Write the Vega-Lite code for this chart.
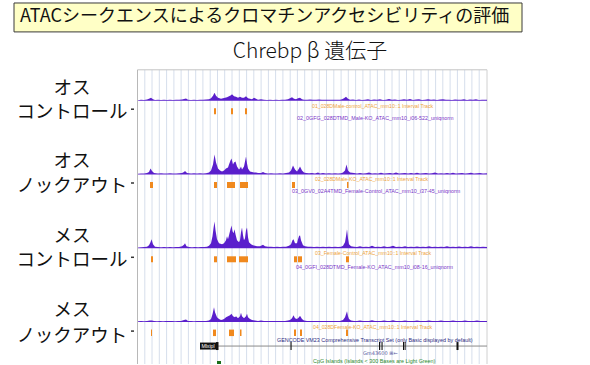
{
 "$schema": "https://vega.github.io/schema/vega-lite/v6.json",
 "width": 590, "height": 365,
 "autosize": {"type": "fit", "contains": "padding"},
 "padding": 0,
 "background": "white",
 "config": {"view": {"stroke": null}, "text": {"font": "Noto Sans CJK JP", "color": "#111111", "baseline": "middle"}},
 "datasets": {
  "grid": [{"gx":144.8},{"gx":152.0},{"gx":159.3},{"gx":166.6},{"gx":173.9},{"gx":181.1},{"gx":188.4},{"gx":195.7},{"gx":202.9},{"gx":210.2},{"gx":217.5},{"gx":224.7},{"gx":232.0},{"gx":239.3},{"gx":246.6},{"gx":253.8},{"gx":261.1},{"gx":268.4},{"gx":275.6},{"gx":282.9},{"gx":290.2},{"gx":297.4},{"gx":304.7},{"gx":312.0},{"gx":319.3},{"gx":326.5},{"gx":333.8},{"gx":341.1},{"gx":348.3},{"gx":355.6},{"gx":362.9},{"gx":370.1},{"gx":377.4},{"gx":384.7},{"gx":392.0},{"gx":399.2},{"gx":406.5},{"gx":413.8},{"gx":421.0},{"gx":428.3},{"gx":435.6},{"gx":442.8},{"gx":450.1},{"gx":457.4},{"gx":464.7},{"gx":471.9},{"gx":479.2}],
  "exons": [{"s":216,"e":218.5},{"s":290.5,"e":291.6},{"s":379,"e":380.2},{"s":381.5,"e":382.6},{"s":403,"e":404},{"s":404.6,"e":405.6},{"s":456.5,"e":458.5}],
  "s1": [{"x":138,"h":0.6},{"x":141,"h":1},{"x":144,"h":0.7},{"x":147,"h":1.2},{"x":149,"h":2},{"x":151,"h":3},{"x":153,"h":1.5},{"x":155,"h":0.8},{"x":158,"h":1},{"x":161,"h":0.7},{"x":164,"h":1},{"x":167,"h":0.8},{"x":170,"h":1},{"x":173,"h":0.8},{"x":176,"h":1},{"x":179,"h":0.9},{"x":182,"h":1.2},{"x":184,"h":1.8},{"x":186,"h":2.2},{"x":188,"h":1},{"x":191,"h":0.8},{"x":194,"h":1},{"x":197,"h":0.8},{"x":200,"h":1},{"x":203,"h":0.9},{"x":206,"h":1.2},{"x":209,"h":1.5},{"x":211,"h":2.5},{"x":213,"h":5},{"x":214.5,"h":8},{"x":216,"h":5},{"x":218,"h":3},{"x":221,"h":2},{"x":223,"h":2.5},{"x":225,"h":3},{"x":227,"h":3.5},{"x":229,"h":4.5},{"x":231,"h":5.5},{"x":232,"h":6.5},{"x":234,"h":4.5},{"x":236,"h":4},{"x":238,"h":3},{"x":240,"h":4},{"x":242,"h":3},{"x":244,"h":3},{"x":246,"h":4.5},{"x":248,"h":2.5},{"x":250,"h":2},{"x":252,"h":1.5},{"x":254,"h":3},{"x":256,"h":2},{"x":258,"h":1},{"x":261,"h":1.5},{"x":264,"h":1},{"x":267,"h":0.8},{"x":270,"h":1},{"x":273,"h":0.8},{"x":276,"h":1},{"x":279,"h":0.8},{"x":282,"h":1},{"x":285,"h":1},{"x":288,"h":1.5},{"x":290,"h":2.5},{"x":292,"h":3.5},{"x":294,"h":2},{"x":296,"h":1.5},{"x":298,"h":2.5},{"x":300,"h":3},{"x":302,"h":1.5},{"x":304,"h":1},{"x":307,"h":1},{"x":310,"h":1.2},{"x":313,"h":0.9},{"x":316,"h":1},{"x":319,"h":1.2},{"x":322,"h":1},{"x":325,"h":0.9},{"x":328,"h":1},{"x":331,"h":1},{"x":334,"h":0.9},{"x":337,"h":1},{"x":340,"h":1.1},{"x":342,"h":1.5},{"x":344,"h":2.5},{"x":346,"h":4},{"x":348,"h":2},{"x":350,"h":1},{"x":353,"h":1.2},{"x":356,"h":0.8},{"x":359,"h":1.3},{"x":362,"h":0.8},{"x":365,"h":1},{"x":368,"h":1.6},{"x":371,"h":0.8},{"x":374,"h":1.2},{"x":377,"h":0.9},{"x":380,"h":1.4},{"x":383,"h":0.8},{"x":386,"h":1},{"x":389,"h":1.8},{"x":392,"h":0.9},{"x":395,"h":1.2},{"x":398,"h":0.8},{"x":401,"h":1},{"x":404,"h":1.5},{"x":407,"h":0.9},{"x":410,"h":1.7},{"x":413,"h":0.8},{"x":416,"h":1.2},{"x":419,"h":1.5},{"x":422,"h":0.8},{"x":425,"h":1.1},{"x":428,"h":1.6},{"x":431,"h":0.9},{"x":434,"h":1.2},{"x":437,"h":0.8},{"x":440,"h":1.3},{"x":443,"h":1.6},{"x":446,"h":0.9},{"x":449,"h":1.1},{"x":452,"h":0.8},{"x":455,"h":1.3},{"x":458,"h":0.9},{"x":461,"h":1.1},{"x":464,"h":1.5},{"x":467,"h":0.8},{"x":470,"h":1.2},{"x":473,"h":0.9},{"x":476,"h":1.4},{"x":479,"h":0.8},{"x":482,"h":1.1},{"x":485,"h":0.9},{"x":487,"h":1}],
  "s2": [{"x":138,"h":0.8},{"x":141,"h":1},{"x":144,"h":1},{"x":147,"h":1.5},{"x":149,"h":2.5},{"x":150.5,"h":6},{"x":152,"h":3.5},{"x":154,"h":1.5},{"x":158,"h":1},{"x":161,"h":1.2},{"x":164,"h":1},{"x":167,"h":1},{"x":170,"h":1.2},{"x":173,"h":1},{"x":176,"h":1},{"x":179,"h":1.2},{"x":182,"h":1.5},{"x":184,"h":2.5},{"x":185,"h":3.5},{"x":187,"h":1.5},{"x":191,"h":1},{"x":194,"h":1.2},{"x":197,"h":1},{"x":200,"h":1.2},{"x":203,"h":1},{"x":206,"h":1.2},{"x":209,"h":2},{"x":211,"h":4},{"x":213,"h":10},{"x":214.5,"h":20},{"x":216,"h":12},{"x":218,"h":6},{"x":220,"h":4},{"x":222,"h":3},{"x":224,"h":4},{"x":226,"h":6},{"x":228,"h":7},{"x":229,"h":10},{"x":230.5,"h":14},{"x":231.5,"h":16},{"x":233,"h":10},{"x":234,"h":12},{"x":235.5,"h":13},{"x":237,"h":8},{"x":239,"h":5},{"x":240,"h":6},{"x":241,"h":8},{"x":242,"h":5},{"x":244,"h":8},{"x":245,"h":13},{"x":246,"h":18},{"x":247,"h":11},{"x":248,"h":6},{"x":250,"h":3},{"x":252,"h":2.5},{"x":254,"h":2},{"x":256,"h":2},{"x":258,"h":1.5},{"x":261,"h":1.5},{"x":263,"h":2.5},{"x":265,"h":1.5},{"x":268,"h":1},{"x":271,"h":1.2},{"x":274,"h":1},{"x":277,"h":1},{"x":280,"h":1.2},{"x":283,"h":1},{"x":286,"h":1.5},{"x":289,"h":2},{"x":291,"h":4},{"x":293,"h":9},{"x":295,"h":5},{"x":297,"h":3},{"x":299,"h":6},{"x":300,"h":8},{"x":302,"h":4},{"x":304,"h":2},{"x":306,"h":1.5},{"x":309,"h":1.2},{"x":312,"h":1.5},{"x":315,"h":1},{"x":318,"h":2},{"x":320,"h":1},{"x":323,"h":1.5},{"x":326,"h":1},{"x":329,"h":1.2},{"x":332,"h":1},{"x":335,"h":1.2},{"x":338,"h":1},{"x":341,"h":1.2},{"x":343,"h":2},{"x":345,"h":4},{"x":346.5,"h":10},{"x":348,"h":4},{"x":350,"h":2},{"x":354,"h":1.5},{"x":357,"h":1},{"x":360,"h":1.6},{"x":363,"h":1},{"x":366,"h":1.2},{"x":369,"h":2},{"x":372,"h":1},{"x":375,"h":1.3},{"x":378,"h":1},{"x":381,"h":1.8},{"x":384,"h":1},{"x":387,"h":1.2},{"x":390,"h":1.5},{"x":393,"h":1},{"x":396,"h":2},{"x":399,"h":1},{"x":402,"h":1.2},{"x":405,"h":1.6},{"x":408,"h":1},{"x":411,"h":1.4},{"x":414,"h":1},{"x":417,"h":1.8},{"x":420,"h":1},{"x":423,"h":1.3},{"x":426,"h":1.5},{"x":429,"h":1},{"x":432,"h":1.2},{"x":435,"h":2},{"x":438,"h":1},{"x":441,"h":1.3},{"x":444,"h":1},{"x":447,"h":1.5},{"x":450,"h":1},{"x":453,"h":1.8},{"x":456,"h":1},{"x":459,"h":1.2},{"x":462,"h":1.5},{"x":465,"h":1},{"x":468,"h":1.3},{"x":471,"h":1.7},{"x":474,"h":1},{"x":477,"h":1.2},{"x":480,"h":1.5},{"x":483,"h":1},{"x":487,"h":1.2}],
  "s3": [{"x":138,"h":0.8},{"x":141,"h":1},{"x":144,"h":1.2},{"x":147,"h":1.5},{"x":149,"h":3},{"x":150.5,"h":6},{"x":151.5,"h":9},{"x":153,"h":4},{"x":155,"h":1.5},{"x":158,"h":1.2},{"x":161,"h":1},{"x":164,"h":1.2},{"x":167,"h":1},{"x":170,"h":1.2},{"x":173,"h":1},{"x":176,"h":1.2},{"x":179,"h":1.2},{"x":182,"h":2},{"x":184,"h":3.5},{"x":185,"h":5},{"x":186.5,"h":2},{"x":189,"h":1.2},{"x":192,"h":1},{"x":195,"h":1.2},{"x":198,"h":1},{"x":201,"h":1.2},{"x":204,"h":1.2},{"x":207,"h":1.5},{"x":209,"h":2.5},{"x":211,"h":5},{"x":212.5,"h":12},{"x":213.5,"h":20},{"x":214.5,"h":27},{"x":215.5,"h":18},{"x":217,"h":9},{"x":219,"h":5},{"x":222,"h":4},{"x":224,"h":5},{"x":226,"h":8},{"x":227,"h":12},{"x":228,"h":9},{"x":229,"h":13},{"x":230.5,"h":19},{"x":231.5,"h":23},{"x":232.5,"h":17},{"x":233.5,"h":15},{"x":234.5,"h":19},{"x":235.5,"h":14},{"x":237,"h":8},{"x":239,"h":6},{"x":240,"h":8},{"x":241,"h":16},{"x":242,"h":21},{"x":243,"h":13},{"x":244,"h":8},{"x":245,"h":10},{"x":246,"h":18},{"x":247,"h":21},{"x":248,"h":11},{"x":249,"h":6},{"x":251,"h":4},{"x":253,"h":3},{"x":255,"h":2.5},{"x":257,"h":2},{"x":260,"h":2},{"x":262,"h":3},{"x":263,"h":3.5},{"x":265,"h":2},{"x":268,"h":1.5},{"x":271,"h":1.5},{"x":274,"h":1.2},{"x":277,"h":1.5},{"x":280,"h":1.2},{"x":283,"h":1.5},{"x":286,"h":1.5},{"x":289,"h":2.5},{"x":291,"h":4},{"x":292.5,"h":8},{"x":293.5,"h":9},{"x":295,"h":5},{"x":297,"h":5},{"x":298,"h":9},{"x":299,"h":12},{"x":300,"h":13},{"x":301,"h":8},{"x":303,"h":3},{"x":305,"h":2},{"x":308,"h":1.5},{"x":311,"h":1.5},{"x":314,"h":1.2},{"x":317,"h":1.5},{"x":320,"h":1.2},{"x":323,"h":1.5},{"x":326,"h":1.2},{"x":329,"h":1.5},{"x":332,"h":1.2},{"x":335,"h":1.5},{"x":338,"h":1.2},{"x":341,"h":1.5},{"x":343,"h":2.5},{"x":345,"h":6},{"x":346,"h":12},{"x":347,"h":19},{"x":348,"h":10},{"x":349,"h":4},{"x":351,"h":2},{"x":354,"h":1.5},{"x":357,"h":1.2},{"x":360,"h":2},{"x":363,"h":1.2},{"x":366,"h":1.5},{"x":369,"h":1.2},{"x":372,"h":2.5},{"x":375,"h":1.2},{"x":378,"h":1.5},{"x":381,"h":1.2},{"x":384,"h":2},{"x":387,"h":1.2},{"x":390,"h":1.5},{"x":393,"h":2.5},{"x":396,"h":1.2},{"x":399,"h":1.5},{"x":402,"h":1.2},{"x":405,"h":2},{"x":408,"h":1.2},{"x":411,"h":1.5},{"x":414,"h":1.2},{"x":417,"h":1.8},{"x":420,"h":1.2},{"x":423,"h":1.5},{"x":426,"h":1.2},{"x":429,"h":2},{"x":432,"h":1.2},{"x":435,"h":1.5},{"x":438,"h":1.2},{"x":441,"h":1.5},{"x":444,"h":1.2},{"x":447,"h":2},{"x":450,"h":1.2},{"x":453,"h":1.5},{"x":456,"h":1.2},{"x":459,"h":1.8},{"x":462,"h":1.2},{"x":465,"h":1.5},{"x":468,"h":1.2},{"x":471,"h":2},{"x":474,"h":1.2},{"x":477,"h":1.5},{"x":480,"h":1.2},{"x":483,"h":1.5},{"x":487,"h":1.2}],
  "s4": [{"x":138,"h":0.8},{"x":141,"h":1},{"x":144,"h":0.8},{"x":147,"h":1},{"x":150,"h":1.5},{"x":152,"h":1.5},{"x":154,"h":1},{"x":157,"h":0.8},{"x":160,"h":1},{"x":163,"h":0.8},{"x":166,"h":1},{"x":169,"h":1},{"x":172,"h":1},{"x":175,"h":0.8},{"x":178,"h":1},{"x":181,"h":1},{"x":184,"h":2},{"x":186,"h":2.5},{"x":188,"h":1.2},{"x":191,"h":1},{"x":194,"h":0.8},{"x":197,"h":1},{"x":200,"h":1},{"x":203,"h":1},{"x":206,"h":1.2},{"x":209,"h":1.5},{"x":211,"h":3},{"x":212.5,"h":8},{"x":214,"h":15},{"x":215,"h":10},{"x":217,"h":5},{"x":219,"h":3},{"x":221,"h":2},{"x":223,"h":2.5},{"x":225,"h":4},{"x":226,"h":5},{"x":228,"h":6},{"x":230,"h":7},{"x":231.5,"h":8.5},{"x":233,"h":6},{"x":235,"h":5},{"x":236,"h":6},{"x":238,"h":4},{"x":240,"h":6},{"x":241,"h":9.5},{"x":242,"h":6},{"x":244,"h":4},{"x":246,"h":6},{"x":247,"h":8.5},{"x":248,"h":5},{"x":250,"h":3},{"x":252,"h":2},{"x":255,"h":1.5},{"x":258,"h":1.2},{"x":261,"h":1.5},{"x":264,"h":1},{"x":267,"h":1},{"x":270,"h":1.2},{"x":273,"h":1},{"x":276,"h":1},{"x":279,"h":1.2},{"x":282,"h":1},{"x":285,"h":1},{"x":288,"h":1.5},{"x":290,"h":2},{"x":292,"h":4},{"x":293.5,"h":7},{"x":295,"h":4},{"x":297,"h":3},{"x":299,"h":5},{"x":300,"h":6.5},{"x":302,"h":3},{"x":304,"h":1.5},{"x":307,"h":1.2},{"x":310,"h":1},{"x":313,"h":1.2},{"x":316,"h":1},{"x":319,"h":1},{"x":322,"h":1.2},{"x":325,"h":1},{"x":328,"h":1},{"x":331,"h":1.2},{"x":334,"h":1},{"x":337,"h":1},{"x":340,"h":1.2},{"x":343,"h":2},{"x":345,"h":5},{"x":346,"h":8},{"x":347,"h":11},{"x":348,"h":6},{"x":349,"h":3},{"x":351,"h":1.5},{"x":354,"h":1.2},{"x":357,"h":1},{"x":360,"h":1.5},{"x":363,"h":1},{"x":366,"h":1.2},{"x":369,"h":1},{"x":372,"h":1.8},{"x":375,"h":1},{"x":378,"h":1.2},{"x":381,"h":1},{"x":384,"h":1.5},{"x":387,"h":1},{"x":390,"h":1.2},{"x":393,"h":1.8},{"x":396,"h":1},{"x":399,"h":1.2},{"x":402,"h":1},{"x":405,"h":1.5},{"x":408,"h":1},{"x":411,"h":1.2},{"x":414,"h":1},{"x":417,"h":1.6},{"x":420,"h":1},{"x":423,"h":1.2},{"x":426,"h":1},{"x":429,"h":1.5},{"x":432,"h":1},{"x":435,"h":1.2},{"x":438,"h":1},{"x":441,"h":1.6},{"x":444,"h":1},{"x":447,"h":1.2},{"x":450,"h":1},{"x":453,"h":1.5},{"x":456,"h":1},{"x":459,"h":1.2},{"x":462,"h":1},{"x":465,"h":1.5},{"x":468,"h":1},{"x":471,"h":1.2},{"x":474,"h":1},{"x":477,"h":1.5},{"x":480,"h":1},{"x":483,"h":1.2},{"x":487,"h":1}],
  "p1": [{"s":214,"e":216},{"s":231,"e":233},{"s":245,"e":247}],
  "p2": [{"s":150,"e":153},{"s":214,"e":217},{"s":227,"e":235},{"s":240,"e":248},{"s":292,"e":295},{"s":347,"e":348.5}],
  "p3": [{"s":151,"e":153},{"s":214,"e":217},{"s":227,"e":236},{"s":239,"e":248},{"s":294,"e":297},{"s":298,"e":302},{"s":346,"e":349}],
  "p4": [{"s":151,"e":152},{"s":213,"e":216},{"s":229,"e":234},{"s":240,"e":241.5},{"s":294,"e":296},{"s":300,"e":302},{"s":346,"e":348}]
 },
 "resolve": {"scale": {"y": "independent"}},
 "layer": [
  {
   "layer": [
    {"data": {"values": [{}]}, "mark": {"type": "rect", "fill": "#ffffc6", "stroke": "#3a3a3a", "strokeWidth": 1},
     "encoding": {"x": {"datum": 14, "type": "quantitative", "scale": {"domain": [0, 590], "nice": false, "zero": false}, "axis": null}, "x2": {"datum": 522},
                  "y": {"datum": 3, "type": "quantitative", "scale": {"domain": [0, 365], "reverse": true, "nice": false, "zero": false}, "axis": null}, "y2": {"datum": 32}}},
    {"data": {"values": [{}]}, "mark": {"type": "text", "text": "ATACシークエンスによるクロマチンアクセシビリティの評価", "align": "left", "fontSize": 18},
     "encoding": {"x": {"datum": 20, "type": "quantitative"}, "y": {"datum": 17.5, "type": "quantitative"}}},
    {"data": {"values": [{}]}, "mark": {"type": "text", "text": "Chrebp β 遺伝子", "align": "center", "fontSize": 21, "fontWeight": 300},
     "encoding": {"x": {"datum": 310, "type": "quantitative"}, "y": {"datum": 52, "type": "quantitative"}}},
    {"data": {"values": [{}]}, "mark": {"type": "text", "text": "オス", "align": "center", "fontSize": 18.5},
     "encoding": {"x": {"datum": 72, "type": "quantitative"}, "y": {"datum": 88.5, "type": "quantitative"}}},
    {"data": {"values": [{}]}, "mark": {"type": "text", "text": "コントロール", "align": "center", "fontSize": 18.5},
     "encoding": {"x": {"datum": 72, "type": "quantitative"}, "y": {"datum": 112.5, "type": "quantitative"}}},
    {"data": {"values": [{}]}, "mark": {"type": "text", "text": "オス", "align": "center", "fontSize": 18.5},
     "encoding": {"x": {"datum": 72, "type": "quantitative"}, "y": {"datum": 161, "type": "quantitative"}}},
    {"data": {"values": [{}]}, "mark": {"type": "text", "text": "ノックアウト", "align": "center", "fontSize": 18.5},
     "encoding": {"x": {"datum": 72, "type": "quantitative"}, "y": {"datum": 186.5, "type": "quantitative"}}},
    {"data": {"values": [{}]}, "mark": {"type": "text", "text": "メス", "align": "center", "fontSize": 18.5},
     "encoding": {"x": {"datum": 72, "type": "quantitative"}, "y": {"datum": 236.5, "type": "quantitative"}}},
    {"data": {"values": [{}]}, "mark": {"type": "text", "text": "コントロール", "align": "center", "fontSize": 18.5},
     "encoding": {"x": {"datum": 72, "type": "quantitative"}, "y": {"datum": 260.5, "type": "quantitative"}}},
    {"data": {"values": [{}]}, "mark": {"type": "text", "text": "メス", "align": "center", "fontSize": 18.5},
     "encoding": {"x": {"datum": 72, "type": "quantitative"}, "y": {"datum": 311, "type": "quantitative"}}},
    {"data": {"values": [{}]}, "mark": {"type": "text", "text": "ノックアウト", "align": "center", "fontSize": 18.5},
     "encoding": {"x": {"datum": 72, "type": "quantitative"}, "y": {"datum": 336.5, "type": "quantitative"}}},
    {"data": {"name": "grid"}, "mark": {"type": "rule", "stroke": "#d6deec", "strokeWidth": 1},
     "encoding": {"x": {"field": "gx", "type": "quantitative"}, "y": {"datum": 70, "type": "quantitative"}, "y2": {"datum": 365}}},
    {"data": {"values": [{}]}, "mark": {"type": "rule", "stroke": "#c4c4c4", "strokeWidth": 1},
     "encoding": {"x": {"datum": 137.5, "type": "quantitative"}, "x2": {"datum": 487}, "y": {"datum": 70, "type": "quantitative"}}},
    {"data": {"values": [{}]}, "mark": {"type": "rule", "stroke": "#b8b8b8", "strokeWidth": 1},
     "encoding": {"x": {"datum": 137.5, "type": "quantitative"}, "y": {"datum": 70, "type": "quantitative"}, "y2": {"datum": 365}}},
    {"data": {"values": [{}]}, "mark": {"type": "rule", "stroke": "#d0d0d0", "strokeWidth": 1},
     "encoding": {"x": {"datum": 487, "type": "quantitative"}, "y": {"datum": 70, "type": "quantitative"}, "y2": {"datum": 365}}},
    {"data": {"values": [{}]}, "mark": {"type": "text", "text": "GENCODE VM23 Comprehensive Transcript Set (only Basic displayed by default)", "align": "left", "fontSize": 5.4, "font": "Liberation Sans", "color": "#2b2b80"},
     "encoding": {"x": {"datum": 277, "type": "quantitative"}, "y": {"datum": 341, "type": "quantitative"}}},
    {"data": {"values": [{}]}, "mark": {"type": "rule", "stroke": "#8a8a8a", "strokeWidth": 1},
     "encoding": {"x": {"datum": 217, "type": "quantitative"}, "x2": {"datum": 487}, "y": {"datum": 347, "type": "quantitative"}}},
    {"data": {"values": [{}]}, "mark": {"type": "rect", "fill": "#111111"},
     "encoding": {"x": {"datum": 200, "type": "quantitative"}, "x2": {"datum": 216}, "y": {"datum": 343.5, "type": "quantitative"}, "y2": {"datum": 350.5}}},
    {"data": {"values": [{}]}, "mark": {"type": "text", "text": "Mlxipl", "align": "center", "fontSize": 5.2, "font": "Liberation Sans", "color": "#ffffff"},
     "encoding": {"x": {"datum": 208, "type": "quantitative"}, "y": {"datum": 347, "type": "quantitative"}}},
    {"data": {"name": "exons"}, "mark": {"type": "rect", "fill": "#111111"},
     "encoding": {"x": {"field": "s", "type": "quantitative"}, "x2": {"field": "e"}, "y": {"datum": 343, "type": "quantitative"}, "y2": {"datum": 351}}},
    {"data": {"values": [{}]}, "mark": {"type": "text", "text": "Gm43600 ⊞←", "align": "left", "fontSize": 5, "font": "DejaVu Sans", "color": "#5a5aa0"},
     "encoding": {"x": {"datum": 363, "type": "quantitative"}, "y": {"datum": 353.5, "type": "quantitative"}}},
    {"data": {"values": [{}]}, "mark": {"type": "text", "text": "CpG Islands (Islands < 300 Bases are Light Green)", "align": "left", "fontSize": 5.4, "font": "Liberation Sans", "color": "#2d8a2d"},
     "encoding": {"x": {"datum": 313, "type": "quantitative"}, "y": {"datum": 361.5, "type": "quantitative"}}},
    {"data": {"values": [{}]}, "mark": {"type": "rect", "fill": "#1a6e1a"},
     "encoding": {"x": {"datum": 217, "type": "quantitative"}, "x2": {"datum": 221}, "y": {"datum": 362, "type": "quantitative"}, "y2": {"datum": 365}}}
   ]
  },
  {
   "layer": [
    {"data": {"name": "s1"}, "mark": {"type": "area", "color": "#5a1fcc", "interpolate": "linear"},
     "encoding": {"x": {"field": "x", "type": "quantitative", "scale": {"domain": [0, 590], "nice": false, "zero": false}, "axis": null},
                  "y": {"field": "h", "type": "quantitative", "scale": {"domain": [-264, 101], "nice": false, "zero": false}, "axis": null}}},
    {"data": {"name": "p1"}, "mark": {"type": "rect", "color": "#f0891e"},
     "encoding": {"x": {"field": "s", "type": "quantitative"}, "x2": {"field": "e"}, "y": {"datum": -7.5, "type": "quantitative"}, "y2": {"datum": -13.5}}},
    {"data": {"values": [{}]}, "mark": {"type": "rule", "stroke": "#333333", "strokeWidth": 1.5},
     "encoding": {"x": {"datum": 131, "type": "quantitative"}, "x2": {"datum": 134}, "y": {"datum": -8.5, "type": "quantitative"}}},
    {"data": {"values": [{}]}, "mark": {"type": "text", "text": "01_028DMale-control_ATAC_mm10::1 Interval Track", "align": "left", "fontSize": 5.2, "font": "Liberation Sans", "color": "#f0a43c"},
     "encoding": {"x": {"datum": 312, "type": "quantitative"}, "y": {"datum": -5, "type": "quantitative"}}},
    {"data": {"values": [{}]}, "mark": {"type": "text", "text": "02_0GFG_028DTMD_Male-KO_ATAC_mm10_i06-522_uniqnorm", "align": "left", "fontSize": 5.4, "font": "Liberation Sans", "color": "#7a35c8"},
     "encoding": {"x": {"datum": 297, "type": "quantitative"}, "y": {"datum": -17, "type": "quantitative"}}}
   ]
  },
  {
   "layer": [
    {"data": {"name": "s2"}, "mark": {"type": "area", "color": "#5a1fcc", "interpolate": "linear"},
     "encoding": {"x": {"field": "x", "type": "quantitative", "scale": {"domain": [0, 590], "nice": false, "zero": false}, "axis": null},
                  "y": {"field": "h", "type": "quantitative", "scale": {"domain": [-190, 175], "nice": false, "zero": false}, "axis": null}}},
    {"data": {"name": "p2"}, "mark": {"type": "rect", "color": "#f0891e"},
     "encoding": {"x": {"field": "s", "type": "quantitative"}, "x2": {"field": "e"}, "y": {"datum": -7.5, "type": "quantitative"}, "y2": {"datum": -13.5}}},
    {"data": {"values": [{}]}, "mark": {"type": "rule", "stroke": "#333333", "strokeWidth": 1.5},
     "encoding": {"x": {"datum": 131, "type": "quantitative"}, "x2": {"datum": 134}, "y": {"datum": -8.5, "type": "quantitative"}}},
    {"data": {"values": [{}]}, "mark": {"type": "text", "text": "02_028DMale-KO_ATAC_mm10::1 Interval Track", "align": "left", "fontSize": 5.2, "font": "Liberation Sans", "color": "#f0a43c"},
     "encoding": {"x": {"datum": 315, "type": "quantitative"}, "y": {"datum": -4.5, "type": "quantitative"}}},
    {"data": {"values": [{}]}, "mark": {"type": "text", "text": "03_0GV0_02A4TMD_Female-Control_ATAC_mm10_i37-45_uniqnorm", "align": "left", "fontSize": 5.4, "font": "Liberation Sans", "color": "#7a35c8"},
     "encoding": {"x": {"datum": 292, "type": "quantitative"}, "y": {"datum": -17, "type": "quantitative"}}}
   ]
  },
  {
   "layer": [
    {"data": {"name": "s3"}, "mark": {"type": "area", "color": "#5a1fcc", "interpolate": "linear"},
     "encoding": {"x": {"field": "x", "type": "quantitative", "scale": {"domain": [0, 590], "nice": false, "zero": false}, "axis": null},
                  "y": {"field": "h", "type": "quantitative", "scale": {"domain": [-116, 249], "nice": false, "zero": false}, "axis": null}}},
    {"data": {"name": "p3"}, "mark": {"type": "rect", "color": "#f0891e"},
     "encoding": {"x": {"field": "s", "type": "quantitative"}, "x2": {"field": "e"}, "y": {"datum": -8, "type": "quantitative"}, "y2": {"datum": -14}}},
    {"data": {"values": [{}]}, "mark": {"type": "rule", "stroke": "#333333", "strokeWidth": 1.5},
     "encoding": {"x": {"datum": 131, "type": "quantitative"}, "x2": {"datum": 134}, "y": {"datum": -9, "type": "quantitative"}}},
    {"data": {"values": [{}]}, "mark": {"type": "text", "text": "03_Female-Control_ATAC_mm10::1 Interval Track", "align": "left", "fontSize": 5.2, "font": "Liberation Sans", "color": "#f0a43c"},
     "encoding": {"x": {"datum": 315, "type": "quantitative"}, "y": {"datum": -5, "type": "quantitative"}}},
    {"data": {"values": [{}]}, "mark": {"type": "text", "text": "04_0GFI_028DTMD_Female-KO_ATAC_mm10_i08-16_uniqnorm", "align": "left", "fontSize": 5.4, "font": "Liberation Sans", "color": "#7a35c8"},
     "encoding": {"x": {"datum": 296, "type": "quantitative"}, "y": {"datum": -19, "type": "quantitative"}}}
   ]
  },
  {
   "layer": [
    {"data": {"name": "s4"}, "mark": {"type": "area", "color": "#5a1fcc", "interpolate": "linear"},
     "encoding": {"x": {"field": "x", "type": "quantitative", "scale": {"domain": [0, 590], "nice": false, "zero": false}, "axis": null},
                  "y": {"field": "h", "type": "quantitative", "scale": {"domain": [-42, 323], "nice": false, "zero": false}, "axis": null}}},
    {"data": {"name": "p4"}, "mark": {"type": "rect", "color": "#f0891e"},
     "encoding": {"x": {"field": "s", "type": "quantitative"}, "x2": {"field": "e"}, "y": {"datum": -7.5, "type": "quantitative"}, "y2": {"datum": -14}}},
    {"data": {"values": [{}]}, "mark": {"type": "rule", "stroke": "#333333", "strokeWidth": 1.5},
     "encoding": {"x": {"datum": 131, "type": "quantitative"}, "x2": {"datum": 134}, "y": {"datum": -9, "type": "quantitative"}}},
    {"data": {"values": [{}]}, "mark": {"type": "text", "text": "04_028DFemale-KO_ATAC_mm10::1 Interval Track", "align": "left", "fontSize": 5.2, "font": "Liberation Sans", "color": "#f0a43c"},
     "encoding": {"x": {"datum": 313, "type": "quantitative"}, "y": {"datum": -5, "type": "quantitative"}}}
   ]
  }
 ]
}
